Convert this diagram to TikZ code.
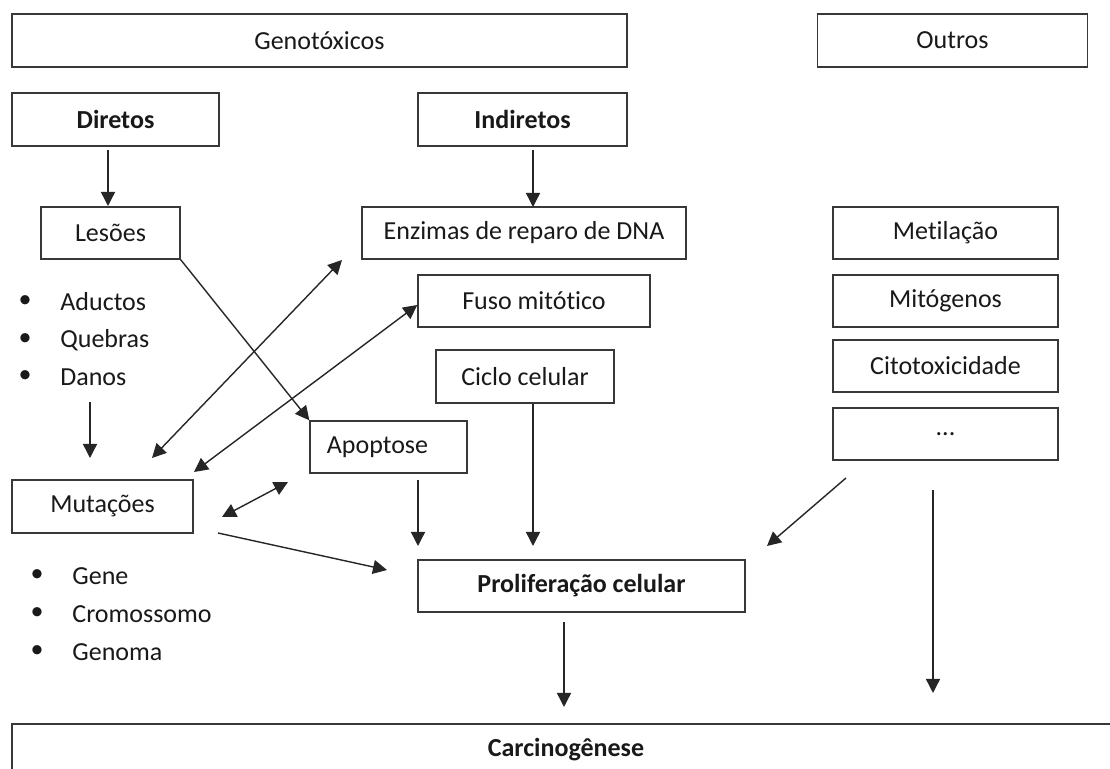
\documentclass[tikz,border=0pt]{standalone}
\usepackage{fontspec}
\setmainfont[Ligatures=NoCommon]{Carlito}
\usetikzlibrary{arrows.meta}
\begin{document}
\begin{tikzpicture}[x=0.5pt,y=-0.5pt,
  every node/.style={text=black!90, font=\fontsize{13}{15}\selectfont},
  box/.style={draw=black!78, line width=0.7pt, inner sep=0pt, rectangle},
  lbl/.style={inner sep=0pt, anchor=west},
  arr/.style={-{Triangle[length=7pt,width=7pt]}, line width=0.7pt, draw=black!85},
  darr/.style={{Triangle[length=7pt,width=7pt]}-{Triangle[length=7pt,width=7pt]}, line width=0.7pt, draw=black!85}]
\path[use as bounding box] (0,0) rectangle (1110,769);
\clip (0,0) rectangle (1110,769);
\fill[white] (0,0) rectangle (1110,769);

% top row
\node[box, minimum width=307.5pt, minimum height=26.5pt] (gen) at (319.5,40.5) {Genotóxicos};
\node[box, minimum width=135pt, minimum height=26.5pt] (outros) at (952.5,40.5) {Outros};
\node[box, minimum width=103.5pt, minimum height=26.5pt] (diretos) at (115.5,119.5) {\bfseries Diretos};
\node[box, minimum width=104.5pt, minimum height=26.5pt] (indiretos) at (522.5,119.5) {\bfseries Indiretos};

% second row
\node[box, minimum width=69.5pt, minimum height=26pt] (lesoes) at (110.5,233) {Lesões};
\node[box, minimum width=162pt, minimum height=26pt] (enzimas) at (524,233) {Enzimas de reparo de DNA};
\node[box, minimum width=112.5pt, minimum height=26pt] (metil) at (945.5,233) {Metilação};
\node[box, minimum width=116pt, minimum height=26pt] (fuso) at (534,301) {Fuso mitótico};
\node[box, minimum width=112.5pt, minimum height=26pt] (mitog) at (945.5,301) {Mitógenos};
\node[box, minimum width=89pt, minimum height=26.5pt] (ciclo) at (525,376.5) {Ciclo celular};
\node[box, minimum width=112.5pt, minimum height=26pt] (citot) at (945.5,366) {Citotoxicidade};
\node[box, minimum width=112.5pt, minimum height=26pt] (dots) at (945.5,434) {...};
\node[box, minimum width=78.5pt, minimum height=26pt] (apopt) at (388.5,447) {};
\node (apoptT) at (377.5,447) {Apoptose};
\node[box, minimum width=90.5pt, minimum height=26.5pt] (mutac) at (102.5,506.5) {Mutações};
\node[box, minimum width=163.5pt, minimum height=26pt] (prolif) at (581.5,586) {\bfseries Proliferação celular};
\node[box, minimum width=554pt, minimum height=26pt] (carcin) at (566,750) {\bfseries Carcinogênese};

% bullet lists
\node (b1) at (25,302) {\textbullet};
\node (b2) at (25,340) {\textbullet};
\node (b3) at (25,377) {\textbullet};
\node[lbl] (aductos) at (60,302) {Aductos};
\node[lbl] (quebras) at (60,340) {Quebras};
\node[lbl] (danos) at (60,377) {Danos};
\node (b4) at (37,576) {\textbullet};
\node (b5) at (37,614) {\textbullet};
\node (b6) at (37,652) {\textbullet};
\node[lbl] (gene) at (72,576) {Gene};
\node[lbl] (cromo) at (72,614) {Cromossomo};
\node[lbl] (genoma) at (72,652) {Genoma};

% free ends
\coordinate (a1e) at (108,206);
\coordinate (a2e) at (533,207);
\coordinate (m1) at (152,458);
\coordinate (e1) at (342,260);
\coordinate (m2) at (194,472);
\coordinate (m3) at (222,517);
\coordinate (ap0) at (288,482);
\coordinate (m4) at (218,533);
\coordinate (p1) at (387,570);
\coordinate (d1) at (90,402);
\coordinate (d2) at (90,458);
\coordinate (ap1) at (418,480);
\coordinate (ap2) at (418,546);
\coordinate (c2) at (533,546);
\coordinate (o1) at (846,478);
\coordinate (o2) at (767,546);
\coordinate (o3) at (933,490);
\coordinate (o4) at (933,693);
\coordinate (pr1) at (564,622);
\coordinate (pr2) at (564,707);

% connectors
\draw[arr, shorten <=1.5pt] (diretos.south -| a1e) -- (a1e);
\draw[arr, shorten <=1.5pt] (indiretos.south -| a2e) -- (a2e);
\draw[arr] (lesoes.south east) -- (apopt.north west);
\draw[darr] (m1) -- (e1);
\draw[darr] (m2) -- ([yshift=-2pt]fuso.west);
\draw[darr] (m3) -- (ap0);
\draw[arr] (m4) -- (p1);
\draw[arr] (d1) -- (d2);
\draw[arr] (ap1) -- (ap2);
\draw[arr] (ciclo.south -| c2) -- (c2);
\draw[arr] (o1) -- (o2);
\draw[arr] (o3) -- (o4);
\draw[arr] (pr1) -- (pr2);
\end{tikzpicture}
\end{document}
